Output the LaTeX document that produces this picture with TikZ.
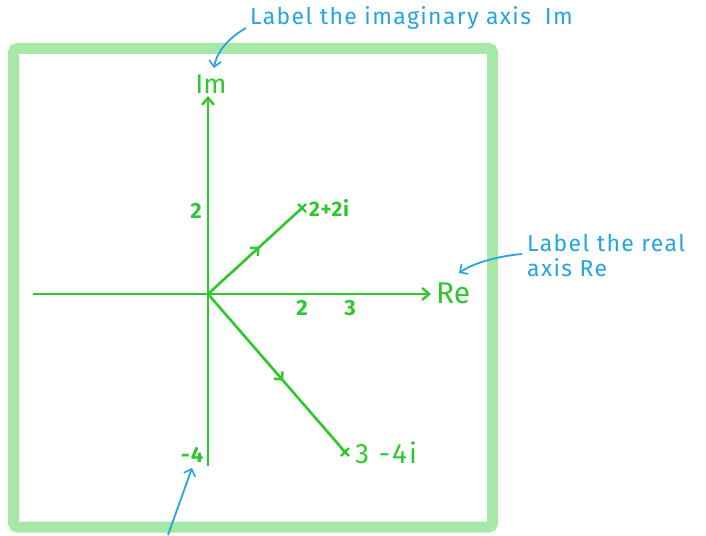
\documentclass[tikz,border=0pt]{standalone}
\usepackage{fontspec}
\setmainfont{Fira Sans}
\usetikzlibrary{arrows.meta,decorations.markings}
\definecolor{gr}{RGB}{46,200,46}
\definecolor{frm}{RGB}{166,232,166}
\definecolor{bl}{RGB}{36,164,224}
\tikzset{
  axisline/.style={draw=gr,line width=2.6pt,-{Straight Barb[length=7pt,width=12pt,line width=2.4pt]}},
  vecline/.style={draw=gr,line width=2.6pt,postaction={decorate},decoration={markings,
     mark=at position 0.55 with {\arrow{Straight Barb[length=6pt,width=11pt,line width=2.4pt]}}}},
  glabel/.style={text=gr,inner sep=0pt,font=\fontsize{22}{22}\selectfont\bfseries},
  blabel/.style={text=bl,inner sep=0pt,font=\fontsize{23}{25}\selectfont\addfontfeature{LetterSpace=6},align=left},
  barrow/.style={draw=bl,line width=1.8pt,-{Straight Barb[length=6pt,width=12pt,line width=1.6pt]}},
  xmark/.style={draw=gr,line width=2.2pt}
}
\begin{document}
\begin{tikzpicture}[x=1pt,y=-1pt]
\useasboundingbox (0,0) rectangle (706,535);
% frame
\draw[frm,line width=11pt,rounded corners=4pt] (13.5,48.5) rectangle (492.5,527);
% coordinates
\coordinate (O) at (208,294);
\coordinate (imtop) at (208,96);
\coordinate (imbot) at (208,466);
\coordinate (releft) at (33,294);
\coordinate (reright) at (431,294);
\coordinate (p1) at (302,208);
\coordinate (p2) at (345,452);
% axes
\draw[axisline] (imbot) -- (imtop);
\draw[axisline] (releft) -- (reright);
% vectors
\draw[vecline] (O) -- (p1);
\draw[vecline] (O) -- (p2);
% x marks
\draw[xmark] ([shift={(-4,-4)}]p1) -- ([shift={(4,4)}]p1) ([shift={(-4,4)}]p1) -- ([shift={(4,-4)}]p1);
\draw[xmark] ([shift={(-4,-4)}]p2) -- ([shift={(4,4)}]p2) ([shift={(-4,4)}]p2) -- ([shift={(4,-4)}]p2);
% green labels
\node[glabel,font=\fontsize{27}{27}\selectfont\mdseries] (im) at (211,84) {Im};
\node[glabel,font=\fontsize{30}{30}\selectfont\mdseries,anchor=west] (re) at (436,293) {Re};
\node[glabel,font=\fontsize{21}{21}\selectfont\bfseries\addfontfeature{LetterSpace=4},anchor=west] (z1) at (309,208) {2+2i};
\node[glabel,font=\fontsize{28}{28}\selectfont\addfontfeature{LetterSpace=8},anchor=west] (z2) at (355,453) {3 -4i};
\node[glabel] (y2) at (196,211) {2};
\node[glabel] (x2) at (302,308) {2};
\node[glabel] (x3) at (350,308) {3};
\node[glabel,font=\fontsize{22}{22}\selectfont\bfseries\addfontfeature{LetterSpace=6}] (ym4) at (192,455) {-4};
% blue annotations
\node[blabel,anchor=west] (t1) at (250,18) {Label the imaginary axis\hspace{0.6em}Im};
\node[blabel,anchor=north west] (t2) at (527,234) {Label the real\\axis Re};
\coordinate (a1s) at (246,28);
\coordinate (a2s) at (522,254);
\coordinate (a3s) at (168,535);
\draw[barrow] (a1s) .. controls (225,40) and (216,55) .. (214,68);
\draw[barrow] (a2s) .. controls (500,256) and (475,262) .. (459,273);
\draw[barrow] (a3s) -- (192,468);
\end{tikzpicture}
\end{document}
